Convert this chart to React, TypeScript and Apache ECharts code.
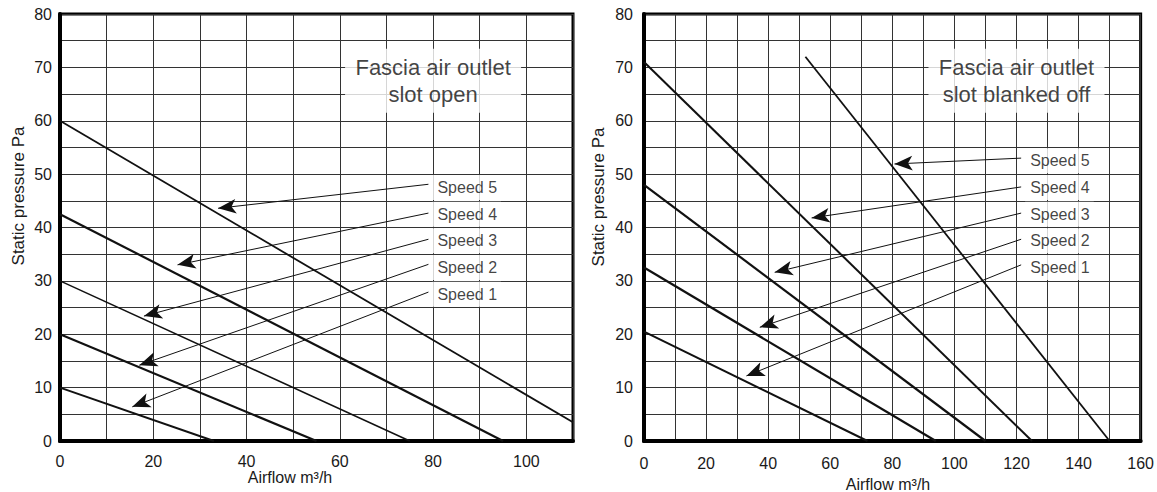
import React, { useEffect, useRef } from "react";
import * as echarts from "echarts";

// ---------- data ----------
const speedNames = ["Speed 1", "Speed 2", "Speed 3", "Speed 4", "Speed 5"];

// Left chart: fascia air outlet slot open  ([airflow, pressure] end points)
const openSpeed1 = [[0, 10], [33, 0]];
const openSpeed2 = [[0, 20], [55, 0]];
const openSpeed3 = [[0, 30], [75, 0]];
const openSpeed4 = [[0, 42.5], [95, 0]];
const openSpeed5 = [[0, 60], [110, 3.5]];
const openLineWidths = [2, 2.2, 1.5, 2.2, 1.8];

// label anchors and arrows (left chart)
const openLabelX = 79;
const openLabelY = [27.5, 32.5, 37.5, 42.5, 47.5];
const openArrowFrom = [[79, 27.9], [79, 33.1], [79, 37.8], [79, 42.7], [79, 48.1]];
const openArrowTo = [[15.5, 6.4], [17, 14.2], [18, 23.4], [25.2, 33.0], [33.9, 43.6]];
const openTitle = "Fascia air outlet\nslot open";
const openTitlePos = [80, 67.5];

// Right chart: fascia air outlet slot blanked off
const blankedSpeed1 = [[0, 20.5], [72, 0]];
const blankedSpeed2 = [[0, 32.5], [94, 0]];
const blankedSpeed3 = [[0, 48], [110, 0]];
const blankedSpeed4 = [[0, 71], [125, 0]];
const blankedSpeed5 = [[52, 72], [150, 0]];
const blankedLineWidths = [2, 2.2, 2.2, 2, 1.8];

const blankedLabelX = 121.5;
const blankedLabelY = [32.5, 37.5, 42.5, 47.5, 52.5];
const blankedArrowFrom = [[121.5, 33], [121.5, 37.8], [121.5, 42.7], [121.5, 47.6], [121.5, 53]];
const blankedArrowTo = [[33, 12.2], [37.3, 21.3], [42.1, 31.6], [54, 41.8], [80.7, 51.9]];
const blankedTitle = "Fascia air outlet\nslot blanked off";
const blankedTitlePos = [120, 67.5];

// axes
const openXMax = 110;
const blankedXMax = 160;
const yMax = 80;
const xName = "Airflow m³/h";
const yName = "Static pressure Pa";

const FONT = "Liberation Sans, Arial, Helvetica, sans-serif";

function xAxis(gridIndex: number, max: number, margin: number) {
  return {
    type: "value",
    gridIndex,
    min: 0,
    max,
    interval: 10,
    axisLine: { show: true, onZero: false, lineStyle: { color: "#000", width: 4 } },
    axisTick: { show: false },
    splitLine: { show: true, lineStyle: { color: "#333", width: 1 } },
    axisLabel: {
      formatter: (v: number) => (v % 20 === 0 ? String(v) : ""),
      color: "#1a1a1a",
      fontSize: 16,
      fontFamily: FONT,
      margin,
    },
  };
}

function yAxis(gridIndex: number, margin: number) {
  return {
    type: "value",
    gridIndex,
    min: 0,
    max: yMax,
    interval: 5,
    axisLine: { show: true, onZero: false, lineStyle: { color: "#000", width: 4 } },
    axisTick: { show: false },
    splitLine: { show: true, lineStyle: { color: "#333", width: 1 } },
    axisLabel: {
      formatter: (v: number) => (v % 10 === 0 ? String(v) : ""),
      color: "#1a1a1a",
      fontSize: 16,
      fontFamily: FONT,
      margin,
    },
  };
}

function speedSeries(idx: number, lines: number[][][], widths: number[]) {
  return lines.map((d, i) => ({
    type: "line",
    name: speedNames[i],
    xAxisIndex: idx,
    yAxisIndex: idx,
    data: d,
    symbol: "none",
    silent: true,
    lineStyle: { color: "#111", width: widths[i] },
    z: 3,
  }));
}

function labelSeries(
  idx: number,
  labelX: number,
  labelY: number[],
  from: number[][],
  to: number[][]
) {
  return {
    type: "scatter",
    xAxisIndex: idx,
    yAxisIndex: idx,
    symbolSize: 0,
    silent: true,
    z: 5,
    data: labelY.map((y, i) => ({ value: [labelX, y], name: speedNames[i] })),
    label: {
      show: true,
      position: "right",
      distance: 4,
      formatter: "{b}",
      color: "#111",
      fontSize: 16,
      fontFamily: FONT,
      backgroundColor: "#fff",
      padding: [4, 4, 4, 5],
      lineHeight: 17,
    },
    markLine: {
      silent: true,
      symbol: ["none", "arrow"],
      symbolSize: [11, 18],
      label: { show: false },
      lineStyle: { color: "#111", width: 1, type: "solid" },
      emphasis: { disabled: true },
      data: from.map((f, i) => [{ coord: f }, { coord: to[i] }]),
    },
  };
}

function titleSeries(idx: number, pos: number[], text: string) {
  return {
    type: "scatter",
    xAxisIndex: idx,
    yAxisIndex: idx,
    symbolSize: 0,
    silent: true,
    z: 5,
    data: [{ value: pos, name: text }],
    label: {
      show: true,
      position: "inside",
      formatter: "{b}",
      color: "#111",
      fontSize: 22,
      lineHeight: 27,
      fontFamily: FONT,
      align: "center",
      width: 158,
      backgroundColor: "#fff",
      padding: [5, 9],
    },
  };
}

function axisNameText(text: string, x: number, y: number, rotate: boolean, size: number) {
  return {
    type: "text",
    x,
    y,
    rotation: rotate ? Math.PI / 2 : 0,
    z: 10,
    style: {
      text,
      fill: "#1a1a1a",
      font: `${size}px ${FONT}`,
      align: "center",
      verticalAlign: "middle",
      textAlign: "center",
      textVerticalAlign: "middle",
    },
  };
}

export default function App() {
  const ref = useRef<HTMLDivElement>(null);
  useEffect(() => {
    if (!ref.current) return;
    const chart = echarts.init(ref.current, undefined, { renderer: "svg" });
    const option = {
      animation: false,
      backgroundColor: "#fff",
      textStyle: { fontFamily: FONT },
      grid: [
        { left: 60, top: 14, width: 513, height: 427, show: true, borderColor: "#000", borderWidth: 3, containLabel: false },
        { left: 644, top: 14, width: 498, height: 427, show: true, borderColor: "#000", borderWidth: 3, containLabel: false },
      ],
      xAxis: [xAxis(0, openXMax, 12), xAxis(1, blankedXMax, 14)],
      yAxis: [yAxis(0, 8), yAxis(1, 11)],
      series: [
        ...speedSeries(0, [openSpeed1, openSpeed2, openSpeed3, openSpeed4, openSpeed5], openLineWidths),
        ...speedSeries(1, [blankedSpeed1, blankedSpeed2, blankedSpeed3, blankedSpeed4, blankedSpeed5], blankedLineWidths),
        labelSeries(0, openLabelX, openLabelY, openArrowFrom, openArrowTo),
        labelSeries(1, blankedLabelX, blankedLabelY, blankedArrowFrom, blankedArrowTo),
        titleSeries(0, openTitlePos, openTitle),
        titleSeries(1, blankedTitlePos, blankedTitle),
      ],
      graphic: [
        axisNameText(yName, 18, 196, true, 17),
        axisNameText(yName, 598, 197, true, 17),
        axisNameText(xName, 290, 477, false, 16),
        axisNameText(xName, 888, 484, false, 16),
      ],
    };
    chart.setOption(option as any);
    return () => chart.dispose();
  }, []);
  return (
    <div
      ref={ref}
      style={{ position: "absolute", left: 0, top: 0, width: 1157, height: 492 }}
    />
  );
}
